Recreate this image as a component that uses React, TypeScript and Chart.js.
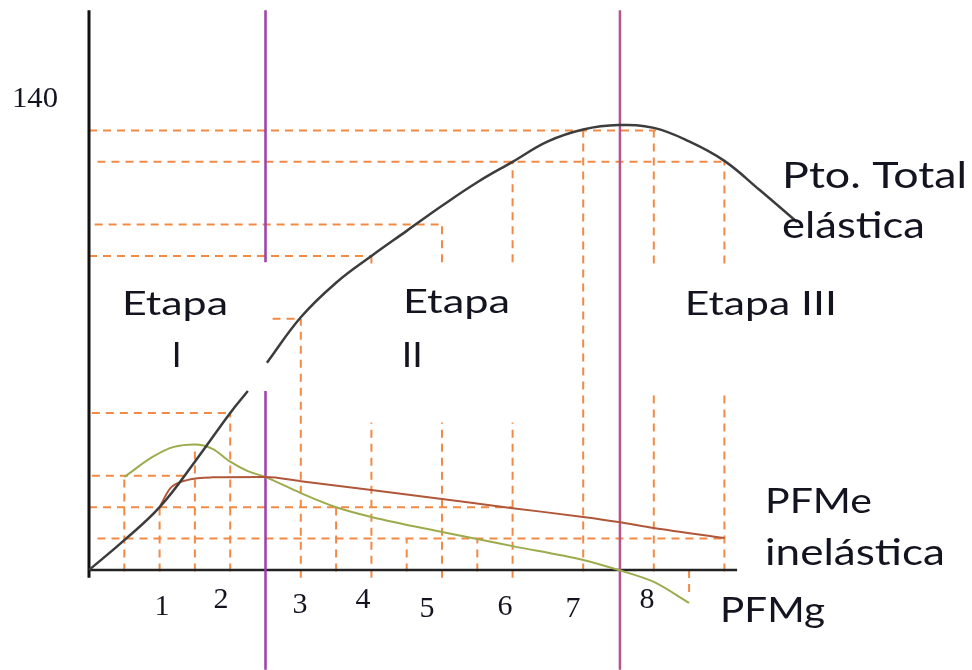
import React, { useEffect, useRef } from 'react';
import { Chart, registerables } from 'chart.js';

Chart.register(...registerables);

// ---- Data (x = labour units, y = output) ----
// Producto total (with the break near the first stage boundary)
const tpL = [0, 0.5, 1, 1.5, 2, 2.25, 2.3, 2.52, 3, 3.5, 4, 4.5, 5, 5.5, 6, 6.5, 7, 7.5, 8, 8.5, 9, 9.5, 10.03];
const tpQ: (number | null)[] = [0, 9.5, 20, 34.5, 50, 57, null, 66, 80.5, 91.5, 100, 108, 116, 123.5, 130, 136.5, 140.3, 141.7, 140.8, 136.5, 130.3, 121, 110.8];

// Producto físico medio
const pfmeL = [1.01, 1.15, 1.4, 1.75, 2.5, 3, 4, 5, 6, 7, 7.5, 8, 9];
const pfmeQ = [20.5, 26, 28.7, 29.5, 29.6, 28.3, 25.5, 22.6, 19.7, 16.9, 15.3, 13.4, 10.2];

// Producto físico marginal
const pfmgL = [0.5, 0.9, 1.2, 1.5, 1.75, 2, 2.25, 2.5, 3, 3.5, 4, 5, 6, 7, 7.5, 8, 8.5];
const pfmgQ = [29.6, 36, 39.2, 40, 38.6, 34.5, 31.5, 29.6, 24.5, 20, 16.9, 12.1, 7.6, 3.2, 0, -3.8, -10.5];

// Dashed guide lines (horizontal: level, from, to)
const hGuideQ = [140, 130, 110, 100, 80, 50, 30, 20, 10];
const hGuideFrom = [0, 0.12, 0.08, 0, 2.6, 0.04, 0.04, 0, 0.12];
const hGuideTo = [8.03, 9, 5, 4, 3, 2, 1.35, 6, 9];

// Dashed guide lines (vertical: position, from, to)
const vGuideL = [0.5, 1, 1.5, 2, 3, 3.5, 4, 4, 4.5, 5, 5, 5.5, 6, 6, 7, 8, 8, 9, 9, 8.5];
const vGuideFrom = [-0.5, -0.5, -0.5, -0.5, -2.5, -0.5, -2.5, 97.6, -0.5, -2.5, 98, -0.5, -2.5, 98, -0.5, -0.5, 97.6, -0.5, 97.6, 0];
const vGuideTo = [30, 20, 39.5, 50, 80, 20, 47, 100, 10, 47, 110, 10, 47, 130, 140, 56.4, 140, 57, 130, -8.6];

// Stage boundaries
const stageL = [2.5, 7.52];
const stageTop = 178.3;
const stageBottom = -31.8;
const stageGapFrom = 57; // first boundary is broken between these levels
const stageGapTo = 98;

// Axis extents
const yAxisTop = 178.3;
const yAxisBottom = -2.5;
const xAxisEnd = 9.18;

// Tick labels
const xTickLabels = ['1', '2', '3', '4', '5', '6', '7', '8'];
const xTickPos = [1.034, 1.87, 2.989, 3.881, 4.788, 5.892, 6.856, 7.904];
const xTickBase = [-14.3, -12.1, -13.7, -12.1, -15.0, -14.3, -15.0, -12.1];
const yTickLabel = '140';
const yTickPos = -1.091;
const yTickBase = 147.5;

// Text annotations
const noteTexts = ['Etapa', 'I', 'Etapa', 'II', 'Etapa III', 'Pto. Total', 'elástica', 'PFMe', 'inelástica', 'PFMg'];
const noteL = [0.467, 1.24, 4.448, 4.43, 8.44, 9.816, 9.816, 9.575, 9.575, 8.938];
const noteQ = [81.2, 64.6, 81.8, 64.6, 81.2, 121.7, 105.7, 18.2, 1.6, -16.6];

// ---- Styles ----
const SANS = 'Lato, "Noto Sans", sans-serif';
const SERIF = '"Liberation Serif", "DejaVu Serif", serif';
const noteStyle = [
  { size: 33, width: 106, align: 'left' },
  { size: 35, width: 0, align: 'center' },
  { size: 33, width: 107, align: 'left' },
  { size: 35, width: 21, align: 'left' },
  { size: 33, width: 152, align: 'left' },
  { size: 36, width: 185, align: 'left' },
  { size: 36, width: 143, align: 'left' },
  { size: 35, width: 107, align: 'left' },
  { size: 36, width: 180, align: 'left' },
  { size: 35, width: 105, align: 'left' },
];

const ORANGE = '#f28a45';
const TEXT = '#141420';

const X_MIN = -89 / 70.6;
const X_MAX = (972 - 89) / 70.6;
const Y_MIN = -100 / 3.14;
const Y_MAX = 570 / 3.14;

function pts(xs: number[], ys: (number | null)[]) {
  return xs.map((x, i) => ({ x, y: ys[i] }));
}

const textPlugin = {
  id: 'chartTexts',
  afterDatasetsDraw(chart: any) {
    const { ctx, scales } = chart;
    const xs = scales.x;
    const ys = scales.y;
    const draw = (text: string, lx: number, ly: number, font: string, width: number, align: string) => {
      ctx.save();
      ctx.font = font;
      ctx.fillStyle = TEXT;
      ctx.textBaseline = 'alphabetic';
      ctx.textAlign = align;
      const w = ctx.measureText(text).width;
      const sx = width ? width / w : 1;
      ctx.translate(xs.getPixelForValue(lx), ys.getPixelForValue(ly));
      ctx.scale(sx, 1);
      ctx.fillText(text, 0, 0);
      ctx.restore();
    };
    noteTexts.forEach((t, i) => {
      const st = noteStyle[i];
      draw(t, noteL[i], noteQ[i], `${st.size}px ${SANS}`, st.width, st.align);
    });
    xTickLabels.forEach((t, i) => {
      draw(t, xTickPos[i], xTickBase[i], `30px ${SERIF}`, 0, 'center');
    });
    draw(yTickLabel, yTickPos, yTickBase, `30px ${SERIF}`, 46, 'left');
  },
};

export default function App() {
  const ref = useRef<HTMLCanvasElement | null>(null);

  useEffect(() => {
    if (!ref.current) return;
    const datasets: any[] = [];

    hGuideQ.forEach((q, i) => {
      datasets.push({
        data: [{ x: hGuideFrom[i], y: q }, { x: hGuideTo[i], y: q }],
        borderColor: ORANGE, borderWidth: 2, borderDash: [8, 6], order: 5,
      });
    });
    vGuideL.forEach((l, i) => {
      datasets.push({
        data: [{ x: l, y: vGuideFrom[i] }, { x: l, y: vGuideTo[i] }],
        borderColor: ORANGE, borderWidth: 2, borderDash: [8, 6], order: 5,
      });
    });

    // axes
    datasets.push({
      data: [{ x: 0, y: yAxisTop }, { x: 0, y: yAxisBottom }],
      borderColor: '#111', borderWidth: 3, order: 3,
    });
    datasets.push({
      data: [{ x: 0, y: 0 }, { x: xAxisEnd, y: 0 }],
      borderColor: '#222', borderWidth: 2.5, order: 3,
    });

    // stage boundaries
    datasets.push({
      data: [
        { x: stageL[0], y: stageTop }, { x: stageL[0], y: stageGapTo },
        { x: stageL[0], y: null },
        { x: stageL[0], y: stageGapFrom }, { x: stageL[0], y: stageBottom },
      ],
      borderColor: '#9c3fab', borderWidth: 2.5, order: 2,
    });
    datasets.push({
      data: [{ x: stageL[1], y: stageTop }, { x: stageL[1], y: stageBottom }],
      borderColor: '#b3558c', borderWidth: 2.5, order: 2,
    });

    // curves
    datasets.push({
      label: 'Pto. Total', data: pts(tpL, tpQ),
      borderColor: '#3c3c3c', borderWidth: 2.5, tension: 0.4, order: 1,
    });
    datasets.push({
      label: 'PFMe', data: pts(pfmeL, pfmeQ),
      borderColor: '#b0573a', borderWidth: 2, cubicInterpolationMode: 'monotone', order: 1,
    });
    datasets.push({
      label: 'PFMg', data: pts(pfmgL, pfmgQ),
      borderColor: '#9eab4c', borderWidth: 2, cubicInterpolationMode: 'monotone', order: 1,
    });

    datasets.forEach((d) => {
      d.showLine = true;
      d.pointRadius = 0;
      d.pointHoverRadius = 0;
      d.fill = false;
      d.spanGaps = false;
    });

    const chart = new Chart(ref.current, {
      type: 'scatter',
      data: { datasets },
      options: {
        responsive: false,
        animation: false,
        events: [],
        layout: { padding: 0 },
        plugins: { legend: { display: false }, tooltip: { enabled: false }, title: { display: false } },
        scales: {
          x: { type: 'linear', min: X_MIN, max: X_MAX, display: false },
          y: { type: 'linear', min: Y_MIN, max: Y_MAX, display: false },
        },
      },
      plugins: [textPlugin],
    } as any);
    return () => chart.destroy();
  }, []);

  return (
    <div style={{ position: 'absolute', left: 0, top: 0, width: 972, height: 670, background: '#fff' }}>
      <canvas ref={ref} width={972} height={670} style={{ display: 'block' }} />
    </div>
  );
}
